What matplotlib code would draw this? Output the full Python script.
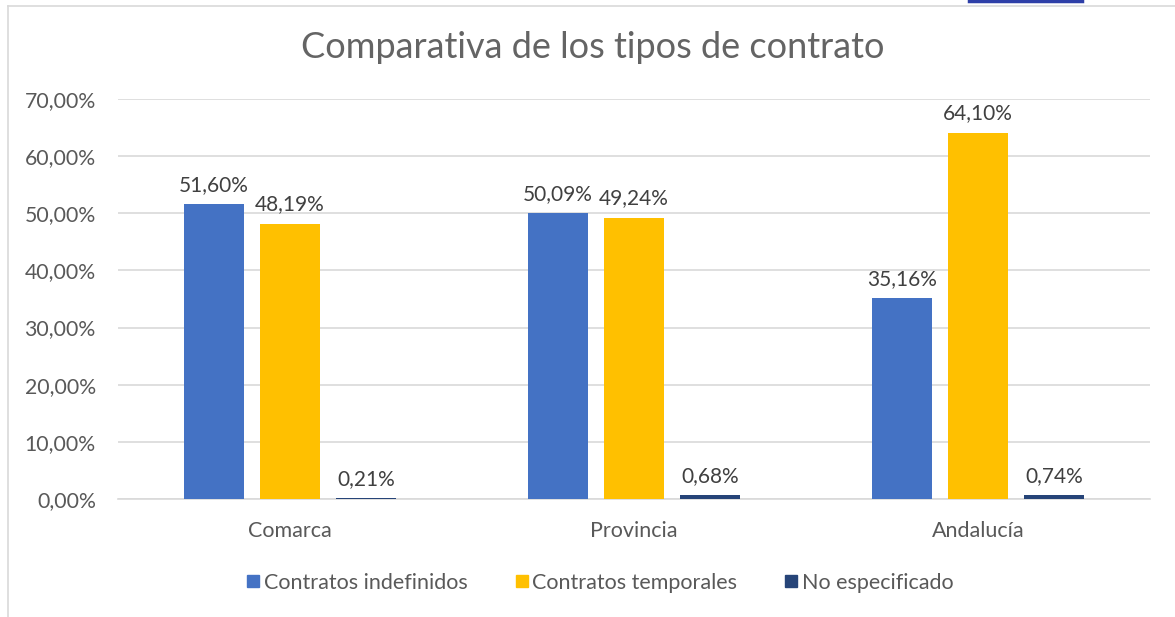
import numpy as np
import matplotlib.pyplot as plt
from matplotlib.lines import Line2D

categories = ["Comarca", "Provincia", "Andalucía"]
series_names = ["Contratos indefinidos", "Contratos temporales", "No especificado"]
indefinidos = [51.60, 50.09, 35.16]
temporales = [48.19, 49.24, 64.10]
no_especificado = [0.21, 0.68, 0.74]
colors = ["#4472C4", "#FFC000", "#264478"]
yticks = [0, 10, 20, 30, 40, 50, 60, 70]

plt.rcParams['font.family'] = ['Lato', 'DejaVu Sans']

fig = plt.figure(figsize=(11.75, 6.17), dpi=100)
ax = fig.add_axes([118 / 1175, 1 - 499 / 617, (1150 - 118) / 1175, 400 / 617])

x = np.arange(len(categories))
width = 60 / 344
step = 76 / 344
for i, (vals, name, c) in enumerate(zip([indefinidos, temporales, no_especificado], series_names, colors)):
    pos = x + (i - 1) * step
    ax.bar(pos, vals, width, color=c, label=name, zorder=3)
    for p, v in zip(pos, vals):
        ax.text(p, v + 1.6, f"{v:.2f}%".replace(".", ","), ha="center", va="bottom",
                fontsize=15, color="#404040")

ax.set_xlim(-0.5, 2.5)
ax.set_ylim(0, 70)
ax.set_yticks(yticks)
ax.set_yticklabels([f"{t:.2f}%".replace(".", ",") for t in yticks])
ax.set_xticks(x)
ax.set_xticklabels(categories)
ax.tick_params(axis="both", length=0, labelcolor="#595959")
ax.tick_params(axis="y", pad=16, labelsize=15.3)
ax.tick_params(axis="x", pad=16, labelsize=15.5)
ax.grid(axis="y", color="#D9D9D9", linewidth=1.2, zorder=0)
for s in ["top", "right", "left"]:
    ax.spines[s].set_visible(False)
ax.spines["bottom"].set_color("#D9D9D9")
ax.spines["bottom"].set_linewidth(1.2)

fig.text(593 / 1175, 1 - 47 / 617, "Comparativa de los tipos de contrato",
         ha="center", va="center", fontsize=26, color="#646464",
         family=["Lato", "DejaVu Sans"])

handles = [Line2D([], [], marker="s", linestyle="", markersize=9, color=c) for c in colors]
fig.legend(handles, series_names, loc="center", bbox_to_anchor=(598 / 1175, 1 - 583 / 617),
           ncol=3, frameon=False, fontsize=15.5, labelcolor="#595959",
           handletextpad=0.0, columnspacing=2.0, handlelength=1.0)

# chart frame
fig.add_artist(Line2D([8 / 1175, 8 / 1175], [0, 1 - 6 / 617], color="#D9D9D9", lw=1.2))
fig.add_artist(Line2D([8 / 1175, 1], [1 - 6 / 617, 1 - 6 / 617], color="#D9D9D9", lw=1.2))
fig.add_artist(Line2D([969 / 1175, 1082 / 1175], [1 - 1 / 617, 1 - 1 / 617], color="#2E3FA8", lw=2.5))

fig.savefig("out.png", dpi=100)
